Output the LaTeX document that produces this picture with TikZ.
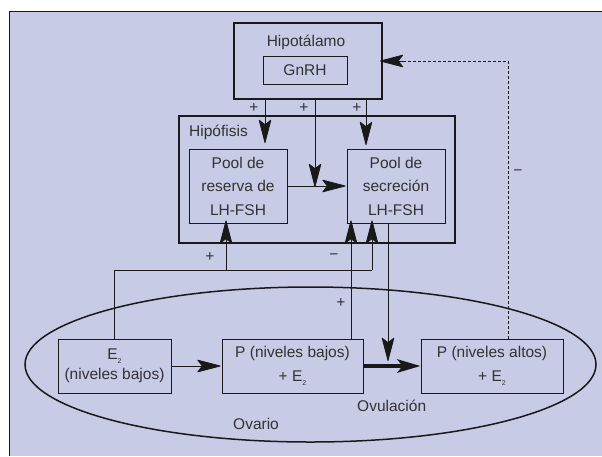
\documentclass[tikz,border=0pt]{standalone}
\usepackage{fontspec}
\setmainfont{Liberation Sans}
\usetikzlibrary{arrows.meta}
\definecolor{bgc}{RGB}{200,203,230}
\definecolor{txt}{RGB}{50,50,50}
\definecolor{ln}{RGB}{25,25,25}
\newcommand{\Esub}{E\raisebox{-4pt}{\fontsize{7}{7}\selectfont 2}}
\begin{document}
\begin{tikzpicture}[x=1pt,y=-1pt,
  font=\fontsize{15.5}{23.5}\selectfont, text=txt,
  box/.style={draw=ln, line width=0.7pt, inner sep=0pt, align=center},
  bigbox/.style={draw=ln, line width=1.8pt, inner sep=0pt},
  headtip/.style={-{Stealth[length=25pt,width=13pt,inset=5pt,round]}},
  arr/.style={draw=ln, line width=0.8pt, headtip},
  conn/.style={draw=ln, line width=0.8pt},
  lbl/.style={inner sep=0pt}]
\useasboundingbox (0,0) rectangle (602,456);
\fill[bgc] (9,11) rectangle (602,456);
\draw[ln, line width=0.8pt] (9,456) -- (9,11) -- (602,11);
% ovary ellipse
\draw[ln, line width=1.5pt] (310.5,364.5) ellipse [x radius=285.5, y radius=77.5];
% Hipotalamo
\node[bigbox, minimum width=148pt, minimum height=76pt] (hipot) at (308,61) {};
\node[lbl] (hipotl) at (306,42) {Hipotálamo};
\node[box, minimum width=84pt, minimum height=28pt] (gnrh) at (305,70) {GnRH};
% Hipofisis
\node[bigbox, minimum width=276pt, minimum height=127pt] (hipof) at (317,179.5) {};
\node[lbl, anchor=west] (hipofl) at (189,132) {Hipófisis};
\node[box, minimum width=98pt, minimum height=74pt] (reserva) at (238,186) {Pool de\\reserva de\\LH-FSH};
\node[box, minimum width=98pt, minimum height=74pt] (secre) at (396,186) {Pool de\\secreción\\LH-FSH};
% Ovary boxes
\node[box, minimum width=113pt, minimum height=54pt] (e2) at (114.5,366) {\Esub\\[-3pt](niveles bajos)};
\node[box, minimum width=141pt, minimum height=54pt] (pb) at (292.5,366) {P (niveles bajos)\\+ \Esub};
\node[box, minimum width=142pt, minimum height=54pt] (pa) at (492,366) {P (niveles altos)\\+ \Esub};
\node[lbl, anchor=west] (ovul) at (357,406) {Ovulación};
\node[lbl, anchor=west] (ovar) at (233,424) {Ovario};
% Hipotalamo -> Hipofisis
\coordinate (a1) at (265,143);
\coordinate (a2) at (315,187);
\coordinate (a3) at (366,145);
\draw[arr] (a1 |- hipot.south) -- (a1);
\draw[arr] (a2 |- hipot.south) -- (a2);
\draw[arr] (a3 |- hipot.south) -- (a3);
\node[lbl] (p1) at (254,108) {+};
\node[lbl] (p2) at (304,108) {+};
\node[lbl] (p3) at (357,108) {+};
\draw[arr, shorten >=1pt] (reserva.east) -- (secre.west);
% E2 feedback
\coordinate (h1) at (114.5,270);
\coordinate (h2) at (372,270);
\coordinate (h3) at (226,270);
\draw[conn] (e2.north) -- (h1) -- (h2);
\draw[arr, shorten >=-3pt] (h2) -- (h2 |- secre.south);
\draw[arr, shorten >=-3pt] (h3) -- (h3 |- reserva.south);
\node[lbl] (p4) at (210,257) {+};
\node[lbl] (m1) at (334,257) {−};
% P low feedback
\coordinate (v1) at (351,339);
\draw[arr, shorten >=-3pt] (v1) -- (v1 |- secre.south);
\node[lbl] (p5) at (341,303) {+};
% secretion -> ovulation
\coordinate (ov) at (388,361);
\draw[arr] (ov |- secre.south) -- (ov);
% ovary chain
\draw[arr, shorten >=1pt] (e2.east) -- (pb.west);
\draw[draw=ln, line width=4.5pt, -{Stealth[length=23pt,width=13pt,inset=5pt]}] (pb.east) -- (pa.west);
% dashed negative feedback
\coordinate (d1) at (508,61);
\draw[conn, dash pattern=on 3pt off 2pt] (d1 |- pa.north) -- (d1) -- ([xshift=20pt]hipot.east);
\draw[arr, shorten >=-3pt] ([xshift=22pt]hipot.east) -- (hipot.east);
\node[lbl] (m2) at (518,173) {−};
\end{tikzpicture}
\end{document}
